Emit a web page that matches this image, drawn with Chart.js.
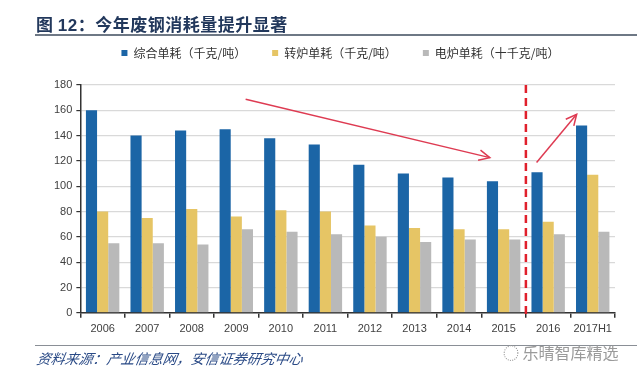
<!DOCTYPE html>
<html>
<head>
<meta charset="utf-8">
<script src="https://cdn.jsdelivr.net/npm/chart.js@4"></script>
<style>
  html, body { margin:0; padding:0; background:#fff; }
  #wrap { position:relative; width:640px; height:380px; overflow:hidden; }
  #chart { position:absolute; left:0; top:0; }
  #title { position:absolute; left:36px; top:11px; font-family:"Noto Sans CJK SC","Noto Sans",sans-serif; font-weight:bold; font-size:17px; color:#22385c; letter-spacing:0.5px; white-space:nowrap; }
  #title .num { font-family:"Liberation Sans",Arial,sans-serif; }
  #topline { position:absolute; left:35px; top:34px; width:602px; height:2px; background:#6e7885; }
  #botline { position:absolute; left:35px; top:345px; width:602px; height:1px; background:#8a8f96; }
  #source { position:absolute; left:37px; top:348px; font-family:"Noto Sans CJK SC",sans-serif; font-style:italic; font-size:14px; color:#2a4a86; white-space:nowrap; transform:skewX(-10deg); }
  #mark { position:absolute; left:503px; top:340px; font-family:"Noto Sans CJK SC",sans-serif; font-size:16px; color:#9a9a9a; white-space:nowrap; }
</style>
</head>
<body>
<div id="wrap">
  <canvas id="chart" width="640" height="380"></canvas>
  <div id="title">图 <span class="num">12</span>：今年废钢消耗量提升显著</div>
  <div id="topline"></div>
  <div id="botline"></div>
  <div id="source">资料来源：产业信息网，安信证券研究中心</div>
  <div id="mark">◌ 乐晴智库精选</div>
</div>
<script>
// ---- data ----
const categories = ['2006','2007','2008','2009','2010','2011','2012','2013','2014','2015','2016','2017H1'];
const seriesNames = ['综合单耗（千克/吨）','转炉单耗（千克/吨）','电炉单耗（十千克/吨）'];
const overall   = [160, 140, 144, 145, 138, 133, 117, 110, 107, 104, 111, 148];
const converter = [ 80,  75,  82,  76,  81,  80,  69,  67,  66,  66,  72, 109];
const electric  = [ 55,  55,  54,  66,  64,  62,  60,  56,  58,  58,  62,  64];
const yTicks = [0, 20, 40, 60, 80, 100, 120, 140, 160, 180];
// annotation arrows in data coordinates: [categoryIndex, value]
const trendArrows = [
  { from: [3.21, 168.7], to: [8.69, 122.6] },
  { from: [9.74, 118.7], to: [10.64, 156.9] }
];
const dividerIndex = 9.5;

const colors = ['#1b65a6', '#e6c565', '#b9b9b9'];
const tickFont = { family: '"Liberation Sans",Arial,sans-serif', size: 11 };

const annotations = {
  id: 'annotations',
  afterDatasetsDraw(chart) {
    const { ctx, chartArea, scales: { x, y } } = chart;
    ctx.save();
    const dx = x.getPixelForValue(dividerIndex);
    ctx.strokeStyle = '#e0202c';
    ctx.lineWidth = 2.5;
    ctx.setLineDash([8, 5]);
    ctx.beginPath();
    ctx.moveTo(dx, chartArea.top);
    ctx.lineTo(dx, chartArea.bottom + 6);
    ctx.stroke();
    ctx.setLineDash([]);
    ctx.strokeStyle = '#de3b52';
    ctx.lineWidth = 1.5;
    trendArrows.forEach(a => {
      const x1 = x.getPixelForValue(a.from[0]), y1 = y.getPixelForValue(a.from[1]);
      const x2 = x.getPixelForValue(a.to[0]),   y2 = y.getPixelForValue(a.to[1]);
      ctx.beginPath();
      ctx.moveTo(x1, y1); ctx.lineTo(x2, y2); ctx.stroke();
      const ang = Math.atan2(y2 - y1, x2 - x1);
      const L = 12, w = 0.45;
      ctx.beginPath();
      ctx.moveTo(x2 - L * Math.cos(ang - w), y2 - L * Math.sin(ang - w));
      ctx.lineTo(x2, y2);
      ctx.lineTo(x2 - L * Math.cos(ang + w), y2 - L * Math.sin(ang + w));
      ctx.stroke();
    });
    ctx.restore();
  }
};

const legendTweak = {
  id: 'legendTweak',
  beforeInit(chart) {
    const lg = chart.legend;
    const fit = lg.fit;
    lg.fit = function () { fit.call(lg); this.height += 16; };
    const draw = lg.draw;
    lg.draw = function (area) {
      const ctx = chart.ctx;
      ctx.save();
      ctx.translate(8, 0);
      draw.call(lg, area);
      ctx.restore();
    };
  }
};

new Chart(document.getElementById('chart'), {
  type: 'bar',
  data: {
    labels: categories,
    datasets: [
      { label: seriesNames[0], data: overall,   backgroundColor: colors[0] },
      { label: seriesNames[1], data: converter, backgroundColor: colors[1] },
      { label: seriesNames[2], data: electric,  backgroundColor: colors[2] }
    ]
  },
  options: {
    responsive: false,
    animation: false,
    devicePixelRatio: 1,
    layout: { padding: { top: 21, left: 50, right: 25, bottom: 39 } },
    datasets: { bar: { categoryPercentage: 0.75, barPercentage: 1.0 } },
    plugins: {
      legend: {
        position: 'top',
        labels: {
          boxWidth: 6, boxHeight: 6, padding: 26,
          color: '#333',
          font: { family: '"Noto Sans CJK SC",sans-serif', size: 12 }
        }
      },
      tooltip: { enabled: false }
    },
    scales: {
      x: {
        grid: { display: true, drawOnChartArea: false, drawTicks: true, tickLength: 5, tickColor: '#333', lineWidth: 1.5, offset: true },
        border: { display: true, color: '#333', width: 1.5 },
        ticks: { color: '#404040', font: tickFont, padding: 5, maxRotation: 0, autoSkip: false }
      },
      y: {
        min: 0, max: 180,
        afterBuildTicks(scale) { scale.ticks = yTicks.map(v => ({ value: v })); },
        grid: { color: '#d9d9d9', lineWidth: 1.2, drawTicks: true, tickLength: 4, tickColor: '#333' },
        border: { display: true, color: '#333', width: 1.5 },
        ticks: { color: '#404040', font: tickFont, padding: 4 }
      }
    }
  },
  plugins: [annotations, legendTweak]
});
</script>
</body>
</html>
